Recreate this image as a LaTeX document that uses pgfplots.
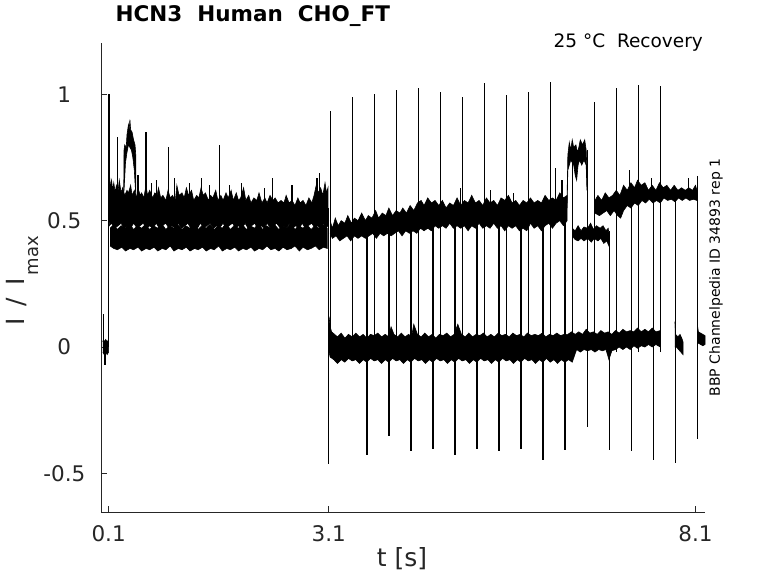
\documentclass[border=0pt]{standalone}
\usepackage{fontspec}
\setmainfont{DejaVu Sans}
\usepackage{pgfplots}
\usepackage{pgfplotstable}
\pgfplotsset{compat=1.18}
\definecolor{axgray}{RGB}{38,38,38}

% pre-pulse band, dense upper part (upper envelope forward, lower envelope back)
\pgfplotstableread{
x y
0.105 0.62
0.112 0.68
0.125 0.63
0.14 0.66
0.155 0.62
0.17 0.65
0.19 0.61
0.205 0.64
0.23 0.62
0.245 0.66
0.27 0.61
0.29 0.63
0.32 0.60
0.35 0.62
0.37 0.61
0.40 0.64
0.42 0.60
0.45 0.62
0.48 0.59
0.50 0.63
0.53 0.60
0.55 0.61
0.58 0.59
0.61 0.64
0.63 0.60
0.66 0.62
0.70 0.59
0.73 0.61
0.76 0.60
0.78 0.63
0.81 0.59
0.84 0.60
0.88 0.58
0.91 0.62
0.94 0.59
0.97 0.60
1.01 0.58
1.03 0.64
1.06 0.60
1.10 0.61
1.13 0.59
1.16 0.63
1.19 0.60
1.23 0.62
1.26 0.58
1.30 0.60
1.33 0.59
1.36 0.63
1.39 0.60
1.42 0.61
1.46 0.58
1.49 0.60
1.52 0.59
1.56 0.62
1.59 0.58
1.63 0.60
1.66 0.58
1.70 0.61
1.73 0.59
1.77 0.62
1.80 0.58
1.84 0.61
1.87 0.58
1.90 0.59
1.94 0.63
1.97 0.58
2.01 0.60
2.04 0.57
2.08 0.59
2.12 0.58
2.15 0.61
2.19 0.57
2.23 0.59
2.26 0.57
2.30 0.60
2.34 0.58
2.37 0.59
2.41 0.57
2.45 0.58
2.49 0.57
2.52 0.60
2.56 0.57
2.60 0.58
2.64 0.56
2.68 0.59
2.71 0.57
2.75 0.58
2.79 0.56
2.83 0.59
2.87 0.57
2.90 0.60
2.93 0.64
2.96 0.61
2.99 0.63
3.02 0.60
3.05 0.65
3.07 0.61
3.09 0.63
3.09 0.48
3.06 0.47
3.03 0.49
2.99 0.47
2.95 0.48
2.91 0.47
2.87 0.49
2.82 0.48
2.78 0.47
2.74 0.49
2.70 0.47
2.65 0.48
2.61 0.47
2.57 0.49
2.52 0.47
2.48 0.48
2.44 0.47
2.39 0.49
2.35 0.48
2.31 0.47
2.26 0.49
2.22 0.47
2.18 0.48
2.13 0.47
2.09 0.49
2.05 0.48
2.00 0.47
1.96 0.49
1.92 0.47
1.87 0.48
1.83 0.47
1.79 0.49
1.74 0.48
1.70 0.47
1.66 0.49
1.61 0.47
1.57 0.48
1.53 0.47
1.48 0.49
1.44 0.48
1.40 0.47
1.35 0.49
1.31 0.47
1.27 0.48
1.22 0.47
1.18 0.49
1.14 0.48
1.09 0.47
1.05 0.49
1.01 0.47
0.96 0.48
0.92 0.47
0.88 0.49
0.83 0.48
0.79 0.47
0.75 0.49
0.70 0.47
0.66 0.48
0.62 0.47
0.57 0.49
0.53 0.48
0.49 0.47
0.44 0.49
0.40 0.47
0.36 0.48
0.31 0.47
0.27 0.49
0.23 0.48
0.18 0.47
0.14 0.49
0.11 0.48
0.105 0.52
}\bandA

% pre-pulse band, lower part
\pgfplotstableread{
x y
0.12 0.47
0.17 0.485
0.22 0.465
0.27 0.48
0.33 0.47
0.38 0.49
0.44 0.465
0.49 0.48
0.55 0.47
0.60 0.485
0.66 0.465
0.71 0.48
0.77 0.47
0.82 0.49
0.88 0.465
0.93 0.48
0.99 0.47
1.04 0.485
1.10 0.465
1.15 0.48
1.21 0.47
1.26 0.49
1.32 0.465
1.37 0.48
1.43 0.47
1.48 0.485
1.54 0.465
1.59 0.48
1.65 0.47
1.70 0.49
1.76 0.465
1.81 0.48
1.87 0.47
1.92 0.485
1.98 0.465
2.03 0.48
2.09 0.47
2.14 0.49
2.20 0.465
2.25 0.48
2.31 0.47
2.36 0.485
2.42 0.465
2.47 0.48
2.53 0.47
2.58 0.49
2.64 0.465
2.69 0.48
2.75 0.47
2.80 0.485
2.86 0.465
2.91 0.48
2.97 0.47
3.02 0.485
3.08 0.47
3.08 0.39
3.03 0.395
2.97 0.385
2.92 0.40
2.86 0.39
2.81 0.385
2.75 0.395
2.70 0.38
2.64 0.40
2.59 0.39
2.53 0.385
2.48 0.395
2.42 0.38
2.37 0.39
2.31 0.385
2.26 0.40
2.20 0.385
2.15 0.39
2.09 0.38
2.04 0.395
1.98 0.385
1.93 0.39
1.87 0.38
1.82 0.395
1.76 0.385
1.71 0.39
1.65 0.38
1.60 0.40
1.54 0.385
1.49 0.39
1.43 0.38
1.38 0.395
1.32 0.385
1.27 0.39
1.21 0.38
1.16 0.395
1.10 0.385
1.05 0.39
0.99 0.38
0.94 0.40
0.88 0.385
0.83 0.39
0.77 0.38
0.72 0.395
0.66 0.385
0.61 0.39
0.55 0.38
0.50 0.395
0.44 0.385
0.39 0.39
0.33 0.38
0.28 0.395
0.22 0.385
0.17 0.39
0.12 0.40
}\bandB

% hump at 0.31-0.47 s
\pgfplotstableread{
x y
0.305 0.60
0.31 0.78
0.32 0.80
0.34 0.79
0.35 0.84
0.37 0.88
0.38 0.86
0.39 0.90
0.40 0.86
0.42 0.85
0.44 0.82
0.46 0.80
0.47 0.76
0.47 0.60
0.45 0.70
0.43 0.75
0.41 0.78
0.39 0.79
0.37 0.80
0.35 0.77
0.33 0.73
0.31 0.62
}\hump

% test-pulse band before 6.35 s
\pgfplotstableread{
x y
3.12 0.50
3.15 0.47
3.19 0.51
3.23 0.48
3.27 0.50
3.32 0.49
3.36 0.52
3.41 0.49
3.45 0.51
3.50 0.50
3.55 0.53
3.60 0.50
3.64 0.52
3.69 0.51
3.74 0.54
3.78 0.51
3.83 0.53
3.88 0.52
3.92 0.55
3.97 0.52
4.02 0.54
4.07 0.53
4.11 0.55
4.16 0.53
4.21 0.56
4.26 0.54
4.31 0.57
4.36 0.58
4.40 0.56
4.45 0.59
4.50 0.57
4.55 0.58
4.60 0.56
4.65 0.58
4.70 0.55
4.75 0.57
4.80 0.56
4.85 0.59
4.90 0.56
4.95 0.58
5.00 0.57
5.05 0.60
5.10 0.57
5.15 0.58
5.20 0.56
5.25 0.59
5.30 0.57
5.35 0.58
5.40 0.56
5.45 0.59
5.50 0.58
5.55 0.60
5.60 0.57
5.65 0.58
5.70 0.56
5.75 0.58
5.80 0.57
5.85 0.59
5.90 0.57
5.95 0.58
6.00 0.57
6.05 0.60
6.10 0.58
6.15 0.59
6.20 0.58
6.25 0.61
6.30 0.59
6.35 0.60
6.35 0.50
6.30 0.48
6.25 0.50
6.20 0.49
6.15 0.47
6.10 0.49
6.05 0.48
6.00 0.46
5.95 0.48
5.90 0.47
5.85 0.49
5.80 0.46
5.75 0.47
5.70 0.46
5.65 0.48
5.60 0.47
5.55 0.48
5.50 0.46
5.45 0.48
5.40 0.47
5.35 0.49
5.30 0.47
5.25 0.48
5.20 0.47
5.15 0.49
5.10 0.47
5.05 0.48
5.00 0.46
4.95 0.48
4.90 0.47
4.85 0.48
4.80 0.47
4.75 0.49
4.70 0.47
4.65 0.48
4.60 0.47
4.55 0.48
4.50 0.46
4.45 0.47
4.40 0.46
4.35 0.47
4.30 0.45
4.25 0.46
4.20 0.45
4.15 0.46
4.10 0.44
4.05 0.46
4.00 0.45
3.95 0.44
3.90 0.45
3.85 0.44
3.80 0.45
3.75 0.43
3.70 0.45
3.65 0.44
3.60 0.43
3.55 0.44
3.50 0.43
3.45 0.44
3.40 0.42
3.35 0.44
3.30 0.43
3.25 0.42
3.20 0.44
3.15 0.43
3.12 0.45
}\bandC

% raised segment 6.35-6.62 s
\pgfplotstableread{
x y
6.35 0.60
6.36 0.76
6.38 0.81
6.40 0.78
6.42 0.82
6.44 0.79
6.47 0.80
6.49 0.77
6.51 0.79
6.53 0.82
6.56 0.80
6.59 0.82
6.61 0.78
6.62 0.70
6.62 0.62
6.61 0.72
6.58 0.74
6.55 0.72
6.52 0.74
6.50 0.72
6.48 0.66
6.46 0.68
6.44 0.72
6.42 0.73
6.40 0.74
6.38 0.72
6.36 0.70
6.35 0.55
}\bandD

% lower branch 6.42-6.92 s
\pgfplotstableread{
x y
6.42 0.47
6.46 0.46
6.50 0.48
6.54 0.46
6.58 0.475
6.63 0.47
6.67 0.49
6.71 0.465
6.75 0.48
6.80 0.47
6.84 0.48
6.88 0.46
6.91 0.47
6.92 0.45
6.92 0.40
6.89 0.42
6.85 0.41
6.81 0.43
6.77 0.42
6.72 0.43
6.68 0.415
6.63 0.43
6.58 0.42
6.54 0.43
6.50 0.42
6.46 0.425
6.42 0.44
}\bandE

% upper branch 6.73-8.12 s
\pgfplotstableread{
x y
6.73 0.58
6.77 0.60
6.82 0.58
6.87 0.61
6.92 0.59
6.97 0.60
7.02 0.62
7.07 0.60
7.12 0.64
7.17 0.62
7.22 0.65
7.27 0.63
7.31 0.66
7.36 0.64
7.41 0.65
7.46 0.62
7.51 0.64
7.56 0.62
7.61 0.65
7.66 0.63
7.71 0.64
7.76 0.62
7.81 0.64
7.86 0.62
7.91 0.63
7.96 0.62
8.01 0.63
8.06 0.62
8.10 0.64
8.12 0.62
8.12 0.58
8.07 0.585
8.02 0.58
7.97 0.59
7.92 0.58
7.87 0.59
7.82 0.575
7.77 0.585
7.72 0.58
7.67 0.59
7.62 0.57
7.57 0.58
7.52 0.57
7.47 0.585
7.42 0.57
7.37 0.58
7.32 0.56
7.27 0.57
7.22 0.55
7.17 0.56
7.12 0.54
7.08 0.51
7.04 0.52
6.99 0.54
6.94 0.52
6.89 0.54
6.84 0.53
6.79 0.52
6.73 0.53
}\bandF

% baseline band after 3.1 s
\pgfplotstableread{
x y
3.105 0.12
3.12 0.08
3.14 0.06
3.18 0.05
3.22 0.04
3.27 0.055
3.32 0.035
3.37 0.05
3.42 0.04
3.47 0.055
3.52 0.04
3.57 0.05
3.62 0.035
3.67 0.05
3.72 0.045
3.77 0.055
3.82 0.04
3.87 0.05
3.92 0.04
3.95 0.08
3.99 0.05
4.04 0.04
4.09 0.055
4.14 0.04
4.19 0.05
4.23 0.04
4.26 0.09
4.31 0.05
4.36 0.04
4.41 0.055
4.46 0.04
4.51 0.05
4.56 0.035
4.61 0.05
4.66 0.045
4.71 0.055
4.76 0.04
4.81 0.05
4.86 0.09
4.91 0.05
4.96 0.04
5.01 0.055
5.06 0.04
5.11 0.05
5.16 0.045
5.21 0.055
5.26 0.04
5.31 0.05
5.36 0.04
5.41 0.055
5.46 0.045
5.51 0.05
5.56 0.04
5.61 0.055
5.66 0.045
5.71 0.05
5.76 0.04
5.81 0.055
5.86 0.045
5.91 0.05
5.96 0.045
6.01 0.055
6.06 0.04
6.11 0.05
6.16 0.045
6.21 0.055
6.26 0.045
6.31 0.05
6.36 0.05
6.41 0.06
6.46 0.05
6.51 0.06
6.56 0.05
6.61 0.07
6.66 0.055
6.71 0.06
6.76 0.05
6.81 0.065
6.86 0.055
6.91 0.06
6.96 0.05
7.01 0.065
7.06 0.055
7.11 0.07
7.16 0.06
7.21 0.065
7.26 0.06
7.31 0.075
7.36 0.06
7.41 0.07
7.46 0.06
7.51 0.075
7.56 0.06
7.62 0.065
7.62 0.00
7.56 0.01
7.51 0.00
7.46 0.01
7.41 0.00
7.36 0.005
7.31 -0.005
7.26 0.005
7.21 -0.01
7.16 0.00
7.11 -0.01
7.06 0.00
7.01 -0.01
6.96 -0.015
6.92 -0.05
6.88 -0.01
6.83 -0.015
6.78 -0.01
6.73 -0.02
6.68 -0.01
6.63 -0.015
6.58 -0.01
6.53 -0.02
6.48 -0.01
6.42 -0.06
6.37 -0.05
6.32 -0.06
6.27 -0.05
6.22 -0.065
6.17 -0.05
6.12 -0.06
6.07 -0.045
6.02 -0.06
5.97 -0.05
5.92 -0.065
5.87 -0.05
5.82 -0.055
5.77 -0.045
5.72 -0.06
5.67 -0.05
5.62 -0.065
5.57 -0.05
5.52 -0.055
5.47 -0.045
5.42 -0.06
5.37 -0.05
5.32 -0.065
5.27 -0.05
5.22 -0.055
5.17 -0.045
5.12 -0.06
5.07 -0.05
5.02 -0.065
4.97 -0.05
4.92 -0.055
4.87 -0.045
4.82 -0.06
4.77 -0.05
4.72 -0.065
4.67 -0.05
4.62 -0.055
4.57 -0.045
4.52 -0.06
4.47 -0.05
4.42 -0.065
4.37 -0.05
4.32 -0.055
4.27 -0.045
4.22 -0.06
4.17 -0.05
4.12 -0.065
4.07 -0.05
4.02 -0.055
3.97 -0.045
3.92 -0.06
3.87 -0.05
3.82 -0.065
3.77 -0.05
3.72 -0.055
3.67 -0.045
3.62 -0.06
3.57 -0.05
3.52 -0.065
3.47 -0.05
3.42 -0.055
3.37 -0.045
3.32 -0.06
3.27 -0.05
3.22 -0.065
3.17 -0.05
3.12 -0.04
3.105 -0.02
}\bandG

% short baseline pieces and pre-pulse baseline
\pgfplotstableread{
x y
7.82 0.10
7.83 0.05
7.86 0.04
7.89 0.05
7.92 0.03
7.93 0.02
7.93 -0.03
7.90 -0.02
7.87 -0.01
7.84 0.00
7.82 0.00
}\bandH
\pgfplotstableread{
x y
8.125 0.09
8.14 0.06
8.17 0.055
8.20 0.05
8.23 0.045
8.23 0.01
8.20 0.005
8.17 0.01
8.14 0.015
8.125 0.02
}\bandI
\pgfplotstableread{
x y
0.02 0.02
0.03 0.03
0.04 0.02
0.06 0.03
0.08 0.02
0.10 0.03
0.10 -0.02
0.08 -0.03
0.06 -0.02
0.04 -0.03
0.02 -0.02
}\bandJ

% transients (vertical strokes), nan separates strokes
\pgfplotstableread{
x y
0.036 -0.02
0.036 0.13
nan nan
0.05 0.02
0.05 -0.07
nan nan
0.10 0.00
0.10 1.00
nan nan
0.105 1.00
0.105 0.55
nan nan
3.098 0.55
3.098 -0.463
nan nan
0.223 0.55
0.223 0.83
nan nan
0.609 0.55
0.609 0.85
nan nan
0.922 0.55
0.922 0.79
nan nan
1.617 0.55
1.617 0.80
nan nan
2.336 0.55
2.336 0.67
nan nan
2.98 0.55
2.98 0.69
nan nan
1.00 0.55
1.00 0.67
nan nan
1.37 0.55
1.37 0.67
nan nan
1.75 0.55
1.75 0.64
nan nan
1.91 0.55
1.91 0.65
nan nan
2.23 0.55
2.23 0.63
nan nan
2.94 0.55
2.94 0.67
nan nan
0.75 0.55
0.75 0.66
nan nan
0.50 0.55
0.50 0.68
nan nan
1.20 0.55
1.20 0.65
nan nan
2.60 0.55
2.60 0.64
nan nan
1.47 0.55
1.47 0.64
nan nan
0.68 0.55
0.68 0.65
nan nan
5.62 0.52
5.62 0.61
nan nan
6.19 0.52
6.19 0.71
nan nan
6.28 0.52
6.28 0.66
nan nan
4.90 0.52
4.90 0.63
nan nan
5.30 0.52
5.30 0.62
nan nan
7.20 0.58
7.20 0.70
nan nan
7.50 0.58
7.50 0.67
nan nan
8.00 0.58
8.00 0.67
nan nan
3.122 -0.02
3.122 0.934
nan nan
3.422 -0.02
3.422 0.989
nan nan
3.722 -0.02
3.722 1.002
nan nan
4.022 -0.02
4.022 1.017
nan nan
4.322 -0.02
4.322 1.024
nan nan
4.622 -0.02
4.622 1.009
nan nan
4.922 -0.02
4.922 0.989
nan nan
5.222 -0.02
5.222 1.044
nan nan
5.522 -0.02
5.522 0.997
nan nan
5.822 -0.02
5.822 1.009
nan nan
6.122 -0.02
6.122 1.050
nan nan
6.422 -0.02
6.422 0.800
nan nan
6.722 -0.02
6.722 0.971
nan nan
7.022 -0.02
7.022 1.024
nan nan
7.322 -0.02
7.322 1.037
nan nan
7.622 -0.02
7.622 1.034
nan nan
3.622 0.50
3.622 -0.427
nan nan
3.922 0.50
3.922 -0.352
nan nan
4.222 0.50
4.222 -0.412
nan nan
4.522 0.50
4.522 -0.404
nan nan
4.822 0.50
4.822 -0.427
nan nan
5.122 0.50
5.122 -0.404
nan nan
5.422 0.50
5.422 -0.412
nan nan
5.722 0.50
5.722 -0.404
nan nan
6.022 0.50
6.022 -0.447
nan nan
6.322 0.50
6.322 -0.408
nan nan
6.622 0.78
6.622 -0.317
nan nan
6.922 0.46
6.922 -0.408
nan nan
7.222 0.60
7.222 -0.412
nan nan
7.522 0.60
7.522 -0.447
nan nan
7.822 0.60
7.822 -0.459
nan nan
8.122 0.677
8.122 -0.364
}\spikes

\begin{document}
\begin{tikzpicture}[x=1pt,y=1pt]
\path[use as bounding box] (0,0) rectangle (778,583);
\begin{axis}[
  at={(101.3pt,71pt)}, anchor=south west,
  scale only axis, width=603.7pt, height=468.7pt,
  xmin=0, xmax=8.23, ymin=-0.653, ymax=1.202,
  clip=false,
  axis x line=bottom, axis y line=left,
  axis line style={-, draw=axgray, line width=0.6pt},
  tick style={draw=axgray, line width=0.6pt},
  tick align=inside, major tick length=6pt,
  xtick={0.1,3.1,8.1}, xticklabels={0.1,3.1,8.1},
  ytick={-0.5,0,0.5,1}, yticklabels={-0.5,0,0.5,1},
  ticklabel style={font=\fontsize{21.5}{24}\selectfont, text=axgray},
  xticklabel style={anchor=center, yshift=-21.5pt},
  yticklabel style={anchor=center, xshift=-37pt},
  xlabel={t [s]},
  xlabel style={at={(axis description cs:0.498,-0.100)}, anchor=center,
    font=\fontsize{25}{28}\selectfont, text=axgray},
  ylabel={I\hspace{12pt}/\hspace{12pt}I\hspace{3pt}\raisebox{-14pt}{\fontsize{18}{18}\selectfont max}},
  ylabel style={at={(axis description cs:-0.1264,0.493)}, anchor=base,
    font=\fontsize{25}{28}\selectfont, text=axgray},
  title={HCN3~~Human~~CHO\_FT},
  title style={at={(axis description cs:0.018,1.0342)}, anchor=base west,
    font=\fontsize{21.5}{24}\selectfont\bfseries, text=black},
]
\addplot[fill=black, draw=black, line width=0.6pt] table {\bandA};
\addplot[fill=black, draw=black, line width=0.6pt] table {\bandB};
\addplot[fill=black, draw=black, line width=0.6pt] table {\hump};
\addplot[fill=black, draw=black, line width=0.6pt] table {\bandC};
\addplot[fill=black, draw=black, line width=0.6pt] table {\bandD};
\addplot[fill=black, draw=black, line width=0.6pt] table {\bandE};
\addplot[fill=black, draw=black, line width=0.6pt] table {\bandF};
\addplot[fill=black, draw=black, line width=0.6pt] table {\bandG};
\addplot[fill=black, draw=black, line width=0.6pt] table {\bandH};
\addplot[fill=black, draw=black, line width=0.6pt] table {\bandI};
\addplot[fill=black, draw=black, line width=0.6pt] table {\bandJ};
\addplot[black, line width=1.1pt, unbounded coords=jump] table {\spikes};
\node[anchor=base east, inner sep=0pt, font=\fontsize{18.5}{21}\selectfont, text=black]
  at (axis description cs:0.9967,0.9915) {25 °C~~Recovery};
\node[rotate=90, anchor=center, font=\fontsize{14}{16}\selectfont, text=black]
  at (axis description cs:1.0182,0.5003) {BBP Channelpedia ID 34893 rep 1};
\end{axis}
\end{tikzpicture}
\end{document}
